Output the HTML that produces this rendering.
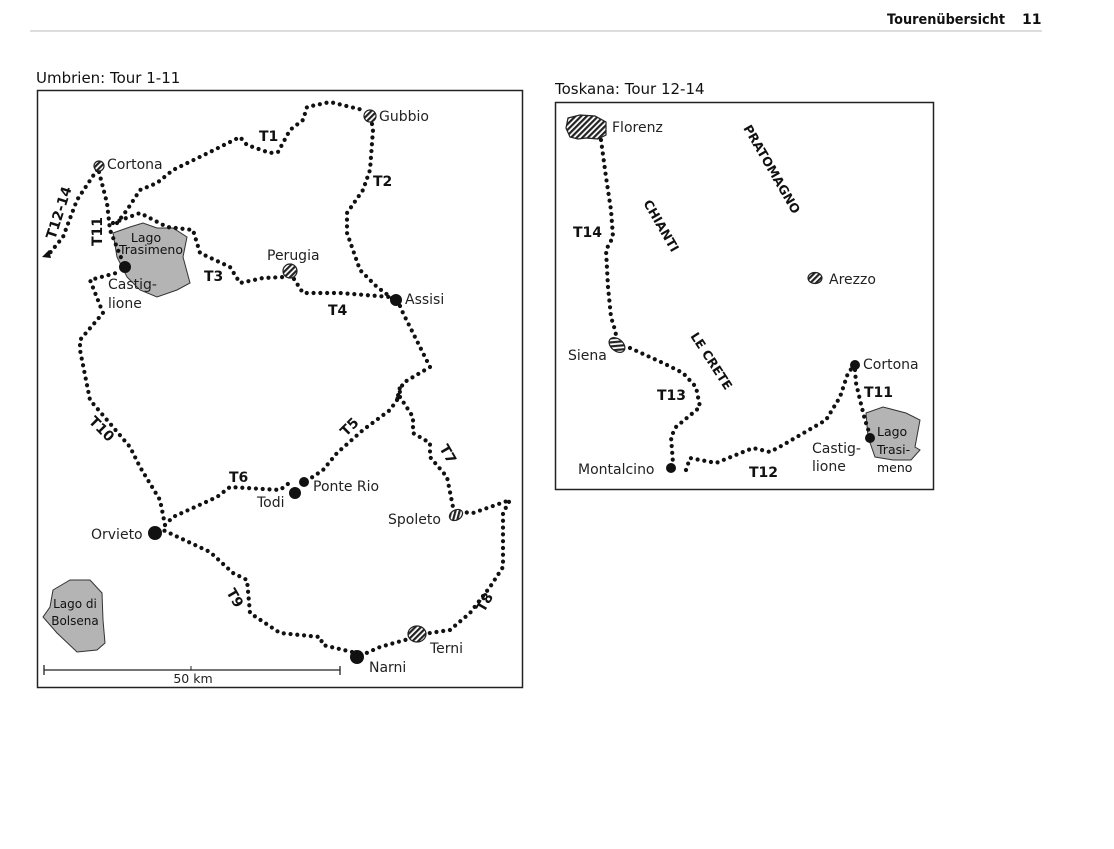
<!DOCTYPE html>
<html><head><meta charset="utf-8"><style>
html,body{margin:0;padding:0;background:#fff;}
svg{display:block;font-family:"DejaVu Sans","Liberation Sans",sans-serif;}
.r{fill:none;stroke:#111;stroke-width:4.2;stroke-linecap:round;stroke-linejoin:round;stroke-dasharray:0 6.8;}
.l{font-size:14px;fill:#222;}
.b{font-size:14px;font-weight:bold;fill:#111;}
.h{fill:url(#hatch);stroke:#222;stroke-width:1.2;}
.reg{font-size:12.5px;font-weight:bold;fill:#111;}
</style></head><body>
<svg width="1114" height="849" viewBox="0 0 1114 849" xmlns="http://www.w3.org/2000/svg">
<defs>
<pattern id="hatch" width="4" height="4" patternUnits="userSpaceOnUse" patternTransform="rotate(45)">
<rect width="4" height="4" fill="#fff"/><rect width="2.2" height="4" fill="#222"/>
</pattern>
</defs>
<rect width="1114" height="849" fill="#fff"/>
<!-- header -->
<text x="887" y="24" textLength="118" lengthAdjust="spacingAndGlyphs" style="font-size:14px;fill:#111;font-weight:bold">Tourenübersicht</text>
<text x="1022" y="24" style="font-size:14px;fill:#111;font-weight:bold">11</text>
<line x1="30" y1="31" x2="1042" y2="31" stroke="#bbb" stroke-width="1"/>

<!-- LEFT MAP -->
<text x="36" y="83" style="font-size:15px;fill:#111">Umbrien: Tour 1-11</text>
<rect x="37.5" y="90.5" width="485" height="597" fill="none" stroke="#222" stroke-width="1.5"/>

<polygon points="113,233 130,227 143,223 157,228 173,228 187,237 183,257 190,283 177,290 157,297 140,290 127,277 117,257" fill="#b4b4b4" stroke="#333" stroke-width="1"/>
<polygon points="53,590 70,580 90,580 102,593 103,620 105,643 97,650 77,652 57,633 43,617 50,607" fill="#b4b4b4" stroke="#333" stroke-width="1"/>

<!-- routes -->
<polyline class="r" points="117,223 127,210 140,190 157,183 173,170 210,152 240,137 247,145 270,153 278,152 290,130 303,120 307,107 330,102 363,110"/>
<polyline class="r" points="372,124 373,130 370,170 363,190 347,213 347,233 360,270 377,287 392,298"/>
<polyline class="r" points="113,223 140,213 167,227 193,230 200,253 230,267 240,283 263,278 285,277"/>
<polyline class="r" points="294,279 303,293 340,293 390,297"/>
<polyline class="r" points="400,306 403,313 420,347 430,367 403,383 397,400 400,387"/>
<polyline class="r" points="397,400 390,410 363,430 337,453 323,470 308,480"/>
<polyline class="r" points="400,397 413,417 413,433 430,443 430,457 447,477 453,507"/>
<polyline class="r" points="460,512 473,513 510,500 503,513 503,567 490,587 470,613 450,630 430,633 422,635"/>
<polyline class="r" points="412,638 380,647 362,655"/>
<polyline class="r" points="352,652 323,645 320,637 280,633 250,613 247,580 233,573 210,552 163,530"/>
<polyline class="r" points="165,525 173,517 217,497 230,487 280,490 293,480"/>
<polyline class="r" points="165,525 160,500 140,467 130,447 90,400 80,350 80,340 103,313 90,280 120,272"/>
<polyline class="r" points="99,172 107,203 110,230 122,260"/>
<polyline class="r" points="97,170 77,200 63,237 49,254"/>
<polygon points="42,257 49,250 51,258" fill="#111"/>

<!-- towns -->
<circle cx="99" cy="166" r="5" class="h"/>
<circle cx="370" cy="116" r="6" class="h"/>
<circle cx="290" cy="271" r="7" class="h"/>
<ellipse cx="456" cy="515" rx="7" ry="5" transform="rotate(-30 456 515)" class="h"/>
<ellipse cx="417" cy="634" rx="9" ry="8" class="h"/>
<circle cx="125" cy="267" r="6" fill="#111"/>
<circle cx="396" cy="300" r="6" fill="#111"/>
<circle cx="295" cy="493" r="6" fill="#111"/>
<circle cx="304" cy="482" r="5" fill="#111"/>
<circle cx="155" cy="533" r="7" fill="#111"/>
<circle cx="357" cy="657" r="7" fill="#111"/>

<!-- labels -->
<text class="l" x="379" y="121">Gubbio</text>
<text class="l" x="107" y="169">Cortona</text>
<text class="l" x="267" y="260">Perugia</text>
<text class="l" x="405" y="304">Assisi</text>
<text class="l" x="108" y="289">Castig-</text>
<text class="l" x="108" y="308">lione</text>
<text x="146" y="242" text-anchor="middle" style="font-size:12.5px;fill:#111">Lago</text>
<text x="151" y="254" text-anchor="middle" style="font-size:12.5px;fill:#111">Trasimeno</text>
<text class="l" x="313" y="491">Ponte Rio</text>
<text class="l" x="257" y="507">Todi</text>
<text class="l" x="91" y="539">Orvieto</text>
<text class="l" x="388" y="524">Spoleto</text>
<text class="l" x="430" y="653">Terni</text>
<text class="l" x="369" y="672">Narni</text>
<text x="75" y="608" text-anchor="middle" style="font-size:12px;fill:#111">Lago di</text>
<text x="75" y="625" text-anchor="middle" style="font-size:12px;fill:#111">Bolsena</text>

<text class="b" x="259" y="141">T1</text>
<text class="b" x="373" y="186">T2</text>
<text class="b" x="204" y="281">T3</text>
<text class="b" x="328" y="315">T4</text>
<text class="b" x="229" y="482">T6</text>
<text class="b" transform="translate(346,437) rotate(-45)">T5</text>
<text class="b" transform="translate(439,448) rotate(60)">T7</text>
<text class="b" transform="translate(484,613) rotate(-60)">T8</text>
<text class="b" transform="translate(226,592) rotate(60)">T9</text>
<text class="b" transform="translate(88,422) rotate(45)">T10</text>
<text class="b" transform="translate(102,246) rotate(-90)">T11</text>
<text class="b" transform="translate(55,240) rotate(-72)">T12-14</text>

<!-- scale -->
<line x1="44" y1="670" x2="340" y2="670" stroke="#222" stroke-width="1.3"/>
<line x1="44" y1="665" x2="44" y2="675" stroke="#222" stroke-width="1.3"/>
<line x1="340" y1="666" x2="340" y2="675" stroke="#222" stroke-width="1.3"/>
<line x1="191" y1="666" x2="191" y2="670" stroke="#222" stroke-width="1"/>
<text x="193" y="683" text-anchor="middle" style="font-size:12.5px;fill:#222">50 km</text>

<!-- RIGHT MAP -->
<text x="555" y="94" style="font-size:15px;fill:#111">Toskana: Tour 12-14</text>
<rect x="555.5" y="102.5" width="378" height="387" fill="none" stroke="#222" stroke-width="1.5"/>

<path d="M568,118 L580,115 L595,116 L606,122 L606,135 L598,139 L586,138 L578,139 L570,137 L566,128 Z" class="h"/>
<polygon points="866,413 883,407 906,413 920,420 915,447 920,450 911,460 893,460 875,457 868,437" fill="#b4b4b4" stroke="#333" stroke-width="1"/>

<polyline class="r" points="601,140 606,177 611,210 613,237 606,250 608,287 611,317 615,330 617,340"/>
<polyline class="r" points="630,348 663,363 683,373 696,387 700,407 676,427 671,437 673,463"/>
<polyline class="r" points="686,470 690,458 716,463 753,448 770,452 783,445 826,420 840,397 848,373 853,367"/>
<polyline class="r" points="855,370 856,383 860,400 865,420 870,435"/>

<ellipse cx="617" cy="345" rx="9" ry="6" transform="rotate(40 617 345)" class="h"/>
<ellipse cx="815" cy="278" rx="7" ry="5.5" class="h"/>
<circle cx="855" cy="365" r="5" fill="#111"/>
<circle cx="870" cy="438" r="5" fill="#111"/>
<circle cx="671" cy="468" r="5" fill="#111"/>

<text class="l" x="612" y="132">Florenz</text>
<text class="l" x="568" y="360">Siena</text>
<text class="l" x="829" y="284">Arezzo</text>
<text class="l" x="863" y="369">Cortona</text>
<text class="l" x="578" y="474">Montalcino</text>
<text class="l" x="812" y="453">Castig-</text>
<text class="l" x="812" y="471">lione</text>
<text x="877" y="436" style="font-size:12.5px;fill:#111">Lago</text>
<text x="877" y="454" style="font-size:12.5px;fill:#111">Trasi-</text>
<text x="877" y="472" style="font-size:12.5px;fill:#111">meno</text>

<text class="b" x="573" y="237">T14</text>
<text class="b" x="657" y="400">T13</text>
<text class="b" x="749" y="477">T12</text>
<text class="b" x="864" y="397">T11</text>
<text class="reg" transform="translate(743,128) rotate(60)">PRATOMAGNO</text>
<text class="reg" transform="translate(643,203) rotate(60)">CHIANTI</text>
<text class="reg" transform="translate(690,336) rotate(57)">LE CRETE</text>
</svg>
</body></html>
